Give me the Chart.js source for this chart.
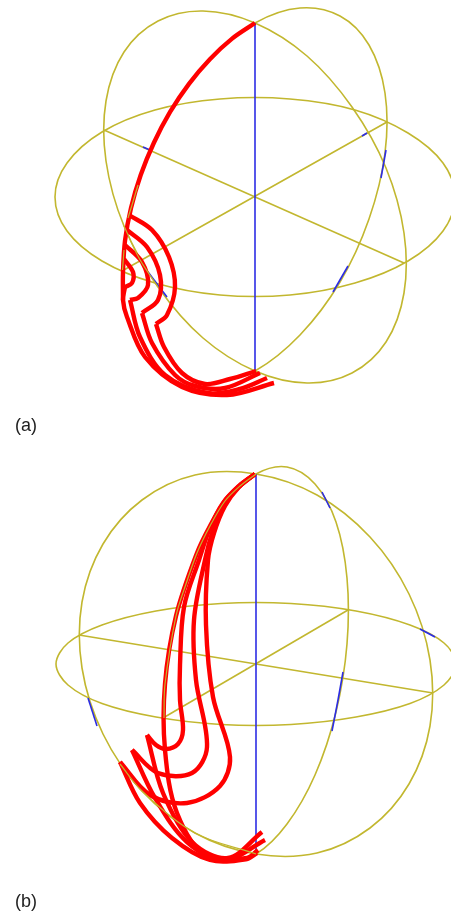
<!DOCTYPE html>
<html>
<head>
<meta charset="utf-8">
<script src="https://cdn.jsdelivr.net/npm/chart.js@4"></script>
<style>
  html, body { margin: 0; padding: 0; background: #fff; }
  #page { position: relative; width: 451px; height: 913px; overflow: hidden; }
  canvas { position: absolute; left: 0; }
  #chartA { top: 0; }
  #chartB { top: 440px; }
  .tag { position: absolute; left: 15px; font: 18px "Liberation Sans", Arial, sans-serif; color: #222; }
</style>
</head>
<body>
<div id="page">
  <canvas id="chartA" width="451" height="440"></canvas>
  <canvas id="chartB" width="451" height="473"></canvas>
  <div class="tag" style="top:415px">(a)</div>
  <div class="tag" style="top:891px">(b)</div>
</div>
<script>
// values, [x, y] in picture units
// sphere curves carry one extra point at each end: those end segments are hidden,
// they only keep the spline round where two pieces meet

// panel (a) - sphere
const aEquatorTop = [[67,231],[55,197],[67,163],[102,132],[155,110],[220,99],[290,99],[355,110],[408,133],[443,163],[455,197],[443,231]];
const aEquatorBottom = [[443,163],[455,197],[443,231],[408,261],[355,283],[290,295],[220,295],[155,283],[102,261],[67,231],[55,197],[67,163]];
const aMeridian1 = [[307,56],[255,23],[203,11],[158,21],[124,52],[106,101],[106,161],[124,226],[158,287],[203,338],[255,371],[307,383],[352,373],[386,342],[404,293],[404,233],[386,168],[352,107],[307,56],[255,23],[203,11]];
const aMeridian2 = [[210,59],[255,23],[300,8],[340,16],[369,45],[385,93],[385,153],[369,219],[340,282],[300,335],[255,371],[210,386]];
const aSpoke1 = [[104,130],[404,263]];
const aSpoke2 = [[122,271],[387,122]];
const aAxis = [[255,23],[255,371]];
const aBlueBits = [
  [[143,147],[150,150]],
  [[362,136],[367,133]],
  [[386,150],[381,178]],
  [[348,266],[333,292]],
  [[148,272],[167,297]]
];
const aOverRed = [
  [[138,185],[132,205],[128,218]],
  [[124,250],[122.5,270]],
  [[124,226],[139,258],[158,287]]
];

// panel (a) - red curves: trunk, then arc and descent of each branch
const aTrunk = [[255,23],[232.1,38.6],[209.9,59.2],[189,83.8],[170.1,111.9],[153.9,142.7],[140.7,175],[131,208],[125,240.7],[123,272],[123,300]];
const aArc1 = [[129,215],[152,230],[169,257],[175,287],[167,315],[156,324]];
const aArc2 = [[127,230],[147,247],[160,275],[158,300],[142,313]];
const aArc3 = [[125,245],[142,262],[148,285],[138,298],[130,300]];
const aArc4 = [[124,259],[133,272],[132,283],[125,287]];
const aDown1 = [[156,324],[164,347],[182,373],[205,384],[230,379],[256,371]];
const aDown2 = [[142,313],[152,343],[175,375],[195,386],[225,388],[260,373]];
const aDown3 = [[130,300],[140,337],[165,375],[207,393],[240,389],[267,378]];
const aDown4 = [[125,287],[123,300],[127,317],[145,357],[182,387],[227,395],[274,383]];

// panel (b) - sphere
const bEquatorTop = [[68,685],[56,664],[68,643],[102,625],[156,611],[221,603.5],[291,603.5],[356,611],[410,625],[444,643],[456,664],[444,685]];
const bEquatorBottom = [[444,643],[456,664],[444,685],[410,703.5],[356,717],[291,724.5],[221,724.5],[156,717],[102,703.5],[68,685],[56,664],[68,643]];
const bMeridian1 = [[317,495],[256,474],[195,475],[142,500],[103,544],[82,602],[82,668],[103,734],[142,791],[195,833],[256,854],[317,853],[370,828],[409,784],[430,726],[430,660],[409,594],[370,537],[317,495],[256,474],[195,475]];
const bMeridian2 = [[225,501],[256,474],[287,467],[315,484],[336,522],[347,578],[347,644],[336,712],[315,775],[287,824],[256,854],[225,861]];
const bSpoke1 = [[79,635],[433,693]];
const bSpoke2 = [[163,718],[348,610]];
const bAxis = [[256,474],[256,855]];
const bBlueBits = [
  [[322,492],[330,508]],
  [[420,629],[435,637]],
  [[343,672],[338,700],[332,731]],
  [[88,698],[97,726]]
];
const bOverRed = [
  [[256,474],[240,486],[225,501],[210,526],[197,553],[186,584],[176,616],[165,684],[164,718]],
  [[120,764],[142,791],[195,833],[256,854]]
];

// panel (b) - red curves
const bCurve1 = [[255,474],[239,487],[225,506],[214,533],[208,560],[206,625],[213,697],[230,757],[220,786],[187,803],[150,795],[120,762]];
const bCurve2 = [[255,474],[239,486],[223,504],[213,530],[205,560],[194,620],[196,680],[207,747],[192,773],[158,773],[132,750]];
const bCurve3 = [[255,474],[239,486],[223,503],[210,528],[199,560],[184,607],[180,665],[180,700],[183,730],[178,744],[166,749],[156,745],[147,735]];
const bCurve4 = [[255,474],[240,486],[225,501],[210,526],[197,553],[176,616],[165,684],[165,750],[177,813],[207,857],[247,858],[258,850]];
const bDown1 = [[120,762],[140,803],[172,838],[210,860],[247,859],[257,853]];
const bDown2 = [[132,750],[155,798],[187,842],[225,860],[265,840]];
const bDown3 = [[147,735],[163,793],[192,842],[228,858],[262,832]];

const YELLOW = '#c2b72f';
const BLUE = '#2c2ce4';
const RED = '#ff0000';

function line(points, color, width, order) {
    return {
        data: points.map(p => ({ x: p[0], y: p[1] })),
        borderColor: color,
        borderWidth: width,
        tension: 0.34,
        pointRadius: 0,
        showLine: true,
        fill: false,
        order: order,
        borderJoinStyle: 'round'
    };
}

// same line, with its first and last segment left out
function trimmed(points, color, width, order) {
    const set = line(points, color, width, order);
    const last = points.length - 1;
    set.segment = {
        borderColor: c => (c.p0DataIndex === 0 || c.p1DataIndex === last) ? 'rgba(0,0,0,0)' : undefined
    };
    return set;
}

function draw(id, yMin, yMax, loops, spokes, blue, red, over) {
    const datasets = [
        ...loops.map(p => trimmed(p, YELLOW, 1.6, 3)),
        ...spokes.map(p => line(p, YELLOW, 1.6, 3)),
        ...blue.map(p => line(p, BLUE, 1.6, 2)),
        ...red.map(p => line(p, RED, 4.4, 1)),
        ...over.map(p => line(p, YELLOW, 1.2, 0))
    ];
    new Chart(document.getElementById(id), {
        type: 'scatter',
        data: { datasets: datasets },
        options: {
            responsive: false,
            animation: false,
            layout: { padding: 0 },
            plugins: { legend: { display: false }, tooltip: { enabled: false } },
            scales: {
                x: { type: 'linear', display: false, min: 0, max: 451 },
                y: { type: 'linear', display: false, min: yMin, max: yMax, reverse: true }
            }
        }
    });
}

draw('chartA', 0, 440,
    [aEquatorTop, aEquatorBottom, aMeridian1, aMeridian2],
    [aSpoke1, aSpoke2],
    [aAxis, ...aBlueBits],
    [aTrunk, aArc1, aArc2, aArc3, aArc4, aDown1, aDown2, aDown3, aDown4],
    aOverRed);

draw('chartB', 440, 913,
    [bEquatorTop, bEquatorBottom, bMeridian1, bMeridian2],
    [bSpoke1, bSpoke2],
    [bAxis, ...bBlueBits],
    [bCurve1, bCurve2, bCurve3, bCurve4, bDown1, bDown2, bDown3],
    bOverRed);
</script>
</body>
</html>
